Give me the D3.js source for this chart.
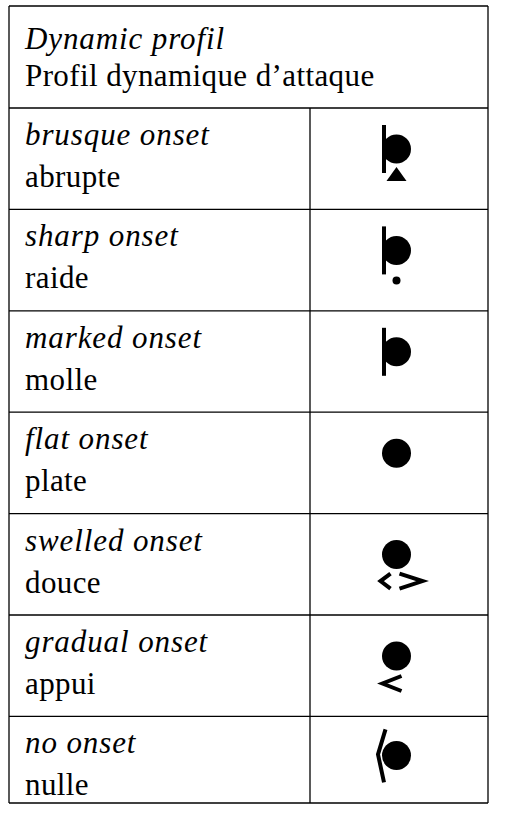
<!DOCTYPE html>
<html><head><meta charset="utf-8">
<script src="https://cdn.jsdelivr.net/npm/d3@7"></script>
<style>
html,body{margin:0;padding:0;background:#fff;}
svg{display:block;}
</style></head>
<body>
<script>
const headerEnglish = "Dynamic profil";
const headerFrench = "Profil dynamique d\u2019attaque";
const englishTerms = ["brusque onset","sharp onset","marked onset","flat onset","swelled onset","gradual onset","no onset"];
const frenchTerms = ["abrupte","raide","molle","plate","douce","appui","nulle"];
const symbolTypes = ["brusque","sharp","marked","flat","swelled","gradual","none"];

(function(){
const W = 508, H = 816;
const tLeft = 9, tRight = 488, tTop = 6, headerBottom = 108, tBottom = 803, colX = 310;
const pitch = 101.4;
const svg = d3.select("body").append("svg").attr("width", W).attr("height", H);

const n = englishTerms.length;
const y = d3.scaleLinear().domain([0, n]).range([headerBottom, headerBottom + pitch * n]);

const g = svg.append("g");
const font = "'Liberation Serif','Times New Roman',serif";
const fs = 31;

const ital = sel => sel.attr("font-family", font).attr("font-size", fs).attr("font-style", "italic").attr("letter-spacing", 0.9);
const reg = sel => sel.attr("font-family", font).attr("font-size", fs).attr("letter-spacing", 0.4);

g.append("text").attr("x", 25).attr("y", tTop + 43).call(ital).text(headerEnglish);
g.append("text").attr("x", 25).attr("y", tTop + 80).call(reg).text(headerFrench);

const rows = g.selectAll("g.row").data(englishTerms.map((e, i) => ({e, f: frenchTerms[i], s: symbolTypes[i], i})))
  .join("g").attr("class", "row").attr("transform", d => `translate(0,${y(d.i)})`);

rows.append("text").attr("x", 25).attr("y", 37).call(ital).text(d => d.e);
rows.append("text").attr("x", 25).attr("y", 79).call(reg).text(d => d.f);

const cx = 396.5, cyOff = 41, r = 14.5;
rows.each(function(d) {
  const s = d3.select(this);
  const cy = d.s === "none" ? cyOff - 2 : cyOff;
  s.append("circle").attr("cx", cx).attr("cy", cy).attr("r", r).attr("fill", "#000");
  if (["brusque","sharp","marked"].includes(d.s)) {
    s.append("rect").attr("x", cx - 14.5).attr("y", cy - 24).attr("width", 4).attr("height", 48).attr("fill", "#000");
  }
  if (d.s === "brusque") {
    s.append("path").attr("d", d3.line()([[cx - 10, cy + 32], [cx + 10, cy + 32], [cx, cy + 18]]) + "Z").attr("fill", "#000");
  }
  if (d.s === "sharp") {
    s.append("circle").attr("cx", cx).attr("cy", cy + 30).attr("r", 4).attr("fill", "#000");
  }
  if (d.s === "swelled") {
    s.append("path").attr("d", d3.line()([[cx - 6, cy + 19], [cx - 16, cy + 26.5], [cx - 6, cy + 34]]))
      .attr("fill", "none").attr("stroke", "#000").attr("stroke-width", 4);
    s.append("path").attr("d", d3.line()([[cx + 3, cy + 19], [cx + 26, cy + 26.5], [cx + 3, cy + 34]]))
      .attr("fill", "none").attr("stroke", "#000").attr("stroke-width", 4);
  }
  if (d.s === "gradual") {
    s.append("path").attr("d", d3.line()([[cx + 5, cy + 20], [cx - 14, cy + 27.5], [cx + 5, cy + 35]]))
      .attr("fill", "none").attr("stroke", "#000").attr("stroke-width", 4);
  }
  if (d.s === "none") {
    s.append("path").attr("d", d3.line()([[cx - 11, cy - 26], [cx - 18.5, cy - 1], [cx - 12.5, cy + 27]]))
      .attr("fill", "none").attr("stroke", "#000").attr("stroke-width", 4);
  }
});

const line = (x1, y1, x2, y2) => g.append("line").attr("x1", x1).attr("y1", y1).attr("x2", x2).attr("y2", y2)
  .attr("stroke", "#000").attr("stroke-width", 1.3);
line(tLeft, tTop, tRight, tTop);
line(tLeft, tBottom, tRight, tBottom);
line(tLeft, tTop, tLeft, tBottom);
line(tRight, tTop, tRight, tBottom);
line(tLeft, headerBottom, tRight, headerBottom);
d3.range(1, n).forEach(i => line(tLeft, y(i), tRight, y(i)));
line(colX, headerBottom, colX, tBottom);
})();
</script>
</body></html>
